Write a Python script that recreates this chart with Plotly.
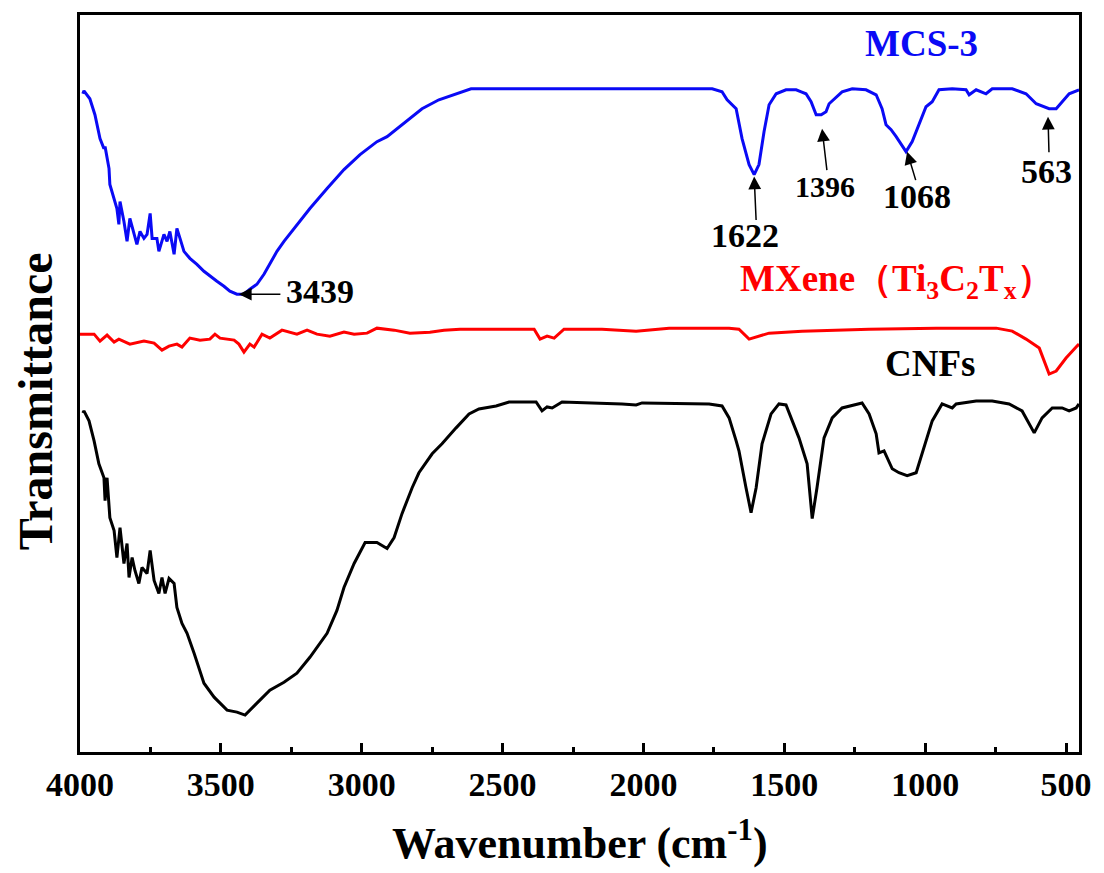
import plotly.graph_objects as go

# ---------------- data (wavenumber in cm-1, transmittance in arbitrary offset units) ----------------
mcs3_wn = [3990, 3986, 3965, 3947, 3929, 3915, 3911, 3897, 3894, 3879, 3869, 3862, 3858, 3844, 3833, 3823,
           3808, 3798, 3787, 3773, 3762, 3751, 3744, 3727, 3720, 3702, 3691, 3681, 3666, 3656, 3645, 3631,
           3610, 3585, 3560, 3539, 3514, 3489, 3468, 3443, 3418, 3397, 3372, 3347, 3326, 3301, 3276, 3240,
           3184, 3123, 3063, 3006, 2946, 2910, 2875, 2857, 2832, 2786, 2726, 2665, 2612, 2400, 2200, 2000,
           1850, 1756, 1721, 1703, 1671, 1650, 1625, 1607, 1590, 1572, 1554, 1529, 1494, 1458, 1440, 1423,
           1405, 1387, 1369, 1352, 1341, 1316, 1295, 1259, 1210, 1174, 1153, 1139, 1121, 1103, 1068, 1046,
           1022, 997, 975, 951, 904, 855, 844, 819, 784, 762, 691, 642, 606, 560, 535, 514, 489, 454]
mcs3_t = [66.0, 66.3, 65.5, 63.9, 61.5, 60.5, 60.7, 58.5, 56.9, 55.5, 54.5, 52.9, 55.2, 53.2, 51.2, 53.5,
          51.9, 50.9, 52.2, 51.5, 51.9, 54.0, 51.5, 51.5, 50.2, 51.9, 51.2, 52.2, 49.9, 52.5, 51.5, 50.2,
          49.5, 48.9, 48.2, 47.7, 47.2, 46.7, 46.2, 45.9, 45.9, 46.4, 46.9, 47.9, 49.0, 50.2, 51.2, 52.5,
          54.5, 56.5, 58.4, 59.9, 61.2, 61.7, 62.5, 62.9, 63.5, 64.5, 65.4, 66.0, 66.5, 66.5, 66.5, 66.5,
          66.5, 66.5, 66.2, 65.4, 64.5, 61.5, 58.9, 57.9, 58.9, 62.2, 64.9, 66.0, 66.4, 66.4, 66.2, 66.0,
          65.2, 63.9, 63.9, 64.2, 65.0, 65.7, 66.2, 66.5, 66.4, 65.9, 64.5, 62.9, 62.4, 61.7, 60.2, 61.2,
          62.9, 64.7, 65.2, 66.4, 66.5, 66.4, 65.9, 66.4, 66.0, 66.5, 66.5, 66.0, 65.0, 64.5, 64.5, 65.2, 66.0, 66.4]

mxene_wn = [4000, 3950, 3929, 3904, 3879, 3862, 3823, 3773, 3737, 3709, 3684, 3656, 3638, 3610, 3574, 3539,
            3521, 3503, 3453, 3436, 3418, 3397, 3382, 3354, 3326, 3283, 3230, 3194, 3159, 3113, 3063, 3027,
            2981, 2946, 2885, 2829, 2758, 2708, 2651, 2474, 2388, 2367, 2342, 2317, 2282, 2236, 2147, 2026,
            1909, 1696, 1661, 1625, 1590, 1554, 1437, 1199, 961, 748, 691, 642, 595, 560, 535, 500, 461, 454]
mxene_t = [41.9, 41.9, 41.2, 41.8, 41.1, 41.4, 40.9, 41.2, 41.0, 40.3, 40.7, 40.9, 40.6, 41.5, 41.3, 41.4,
           41.9, 41.5, 41.3, 40.9, 40.1, 40.9, 40.6, 41.9, 41.5, 42.3, 41.9, 42.3, 41.9, 41.7, 42.1, 41.9,
           42.0, 42.5, 42.3, 42.0, 42.1, 42.3, 42.4, 42.4, 42.4, 41.4, 41.7, 41.5, 42.4, 42.4, 42.4, 42.2,
           42.5, 42.5, 42.4, 41.4, 41.7, 42.0, 42.2, 42.4, 42.5, 42.5, 42.2, 41.4, 40.5, 37.9, 38.2, 39.5, 40.7, 40.9]

cnfs_wn = [3990, 3986, 3968, 3950, 3933, 3915, 3911, 3904, 3894, 3879, 3869, 3858, 3844, 3833, 3826, 3815,
           3805, 3791, 3780, 3762, 3751, 3737, 3720, 3709, 3698, 3684, 3666, 3656, 3638, 3620, 3595, 3560,
           3524, 3478, 3443, 3414, 3372, 3326, 3276, 3230, 3184, 3123, 3088, 3063, 3027, 2988, 2946, 2910,
           2885, 2857, 2821, 2797, 2750, 2715, 2665, 2619, 2584, 2523, 2477, 2381, 2360, 2342, 2324, 2289,
           2076, 2026, 2005, 1767, 1721, 1696, 1671, 1661, 1636, 1618, 1600, 1579, 1547, 1519, 1494, 1476,
           1448, 1419, 1401, 1384, 1359, 1330, 1295, 1224, 1199, 1174, 1164, 1146, 1117, 1093, 1064, 1032,
           1011, 975, 940, 904, 890, 819, 762, 702, 656, 631, 613, 585, 549, 514, 489, 464, 454]
cnfs_t = [34.0, 34.2, 33.2, 31.2, 28.9, 27.5, 25.2, 27.5, 23.5, 22.2, 19.5, 22.5, 18.9, 20.9, 17.5, 19.5,
          18.2, 16.9, 18.5, 17.9, 20.2, 17.2, 15.9, 17.5, 15.9, 17.4, 16.9, 14.5, 12.9, 11.9, 9.9, 6.9,
          5.5, 4.2, 4.0, 3.7, 4.9, 6.2, 7.0, 7.9, 9.5, 11.9, 14.2, 16.5, 18.9, 21.0, 21.0, 20.4,
          21.5, 23.9, 26.5, 28.0, 29.9, 30.9, 32.5, 33.9, 34.4, 34.7, 35.1, 35.1, 34.2, 34.6, 34.5, 35.1,
          34.9, 34.8, 35.0, 34.9, 34.7, 33.5, 31.2, 30.2, 26.5, 24.0, 26.5, 30.9, 33.9, 34.9, 34.8, 33.5,
          31.5, 28.9, 23.4, 26.5, 31.5, 33.5, 34.5, 35.0, 33.9, 31.9, 30.0, 30.2, 28.4, 28.0, 27.7, 28.0,
          29.9, 33.2, 34.9, 34.5, 34.9, 35.2, 35.2, 34.9, 34.2, 32.9, 32.0, 33.5, 34.5, 34.5, 34.2, 34.5, 34.9]

x_ticks = [4000, 3500, 3000, 2500, 2000, 1500, 1000, 500]
x_range = [4000, 454]
y_range = [0, 73.9]

# peak labels
peak_text = ["3439", "1622", "1396", "1068", "563"]
peak_label_wn = [3148, 1639, 1355, 1029, 571]
peak_label_t = [46.2, 51.8, 56.7, 55.7, 58.2]
peak_head_wn = [3436, 1607, 1366, 1064, 564]
peak_head_t = [45.9, 57.7, 62.5, 60.2, 63.7]
peak_font = [34, 34, 30, 34, 34]
arrow_ax = [43, 2, 5, 9, 1]
arrow_ay = [0, 45, 43, 30, 37]

FONT = "Liberation Serif, Times New Roman, serif"
BLUE = "#0a0af5"
RED = "#ff0000"

fig = go.Figure()
fig.add_trace(go.Scatter(x=mcs3_wn, y=mcs3_t, mode="lines", line=dict(color=BLUE, width=3), name="MCS-3"))
fig.add_trace(go.Scatter(x=mxene_wn, y=mxene_t, mode="lines", line=dict(color=RED, width=3), name="MXene"))
fig.add_trace(go.Scatter(x=cnfs_wn, y=cnfs_t, mode="lines", line=dict(color="black", width=3), name="CNFs"))

ann = []
ann.append(dict(x=1014, y=71.0, text="<b>MCS-3</b>", showarrow=False,
                font=dict(family=FONT, size=37, color=BLUE)))
ann.append(dict(x=1100, y=47.2, text="<b>MXene（Ti<sub>3</sub>C<sub>2</sub>T<sub>x</sub>）</b>", showarrow=False,
                font=dict(family=FONT, size=37, color=RED)))
ann.append(dict(x=983, y=39.0, text="<b>CNFs</b>", showarrow=False,
                font=dict(family=FONT, size=37, color="black")))
for i in range(len(peak_text)):
    ann.append(dict(x=peak_label_wn[i], y=peak_label_t[i], text="<b>%s</b>" % peak_text[i], showarrow=False,
                    font=dict(family=FONT, size=peak_font[i], color="black")))
    ann.append(dict(x=peak_head_wn[i], y=peak_head_t[i], text="", showarrow=True,
                    ax=arrow_ax[i], ay=arrow_ay[i], arrowhead=2, arrowsize=1.7, arrowwidth=1.5,
                    arrowcolor="black"))
# axis titles
ann.append(dict(xref="paper", yref="paper", x=0, y=0.476, xshift=-45, xanchor="center", yanchor="middle",
                textangle=-90, text="<b>Transmittance</b>", showarrow=False,
                font=dict(family=FONT, size=48, color="black")))
ann.append(dict(xref="paper", yref="paper", x=0.5, y=0, yshift=-88, xanchor="center", yanchor="middle",
                text="<b>Wavenumber (cm<sup>-1</sup>)</b>", showarrow=False,
                font=dict(family=FONT, size=44, color="black")))

fig.update_layout(
    width=1104, height=873,
    margin=dict(l=80, r=23, t=13, b=121),
    paper_bgcolor="white", plot_bgcolor="white",
    showlegend=False,
    annotations=ann,
    font=dict(family=FONT, color="black"),
)
fig.update_xaxes(range=x_range, tickvals=x_ticks, ticktext=["<b>%d</b>" % v for v in x_ticks],
                 ticks="inside", ticklen=9, tickwidth=2.5, tickcolor="black",
                 minor=dict(ticks="inside", ticklen=5, tickwidth=2.5, dtick=250, tick0=0, tickcolor="black"),
                 showline=True, linewidth=3, linecolor="black", mirror=True,
                 showgrid=False, zeroline=False,
                 tickfont=dict(family=FONT, size=34, color="black"))
fig.update_yaxes(range=y_range, showticklabels=False, ticks="",
                 showline=True, linewidth=3, linecolor="black", mirror=True,
                 showgrid=False, zeroline=False)

fig.write_html("out.html")
